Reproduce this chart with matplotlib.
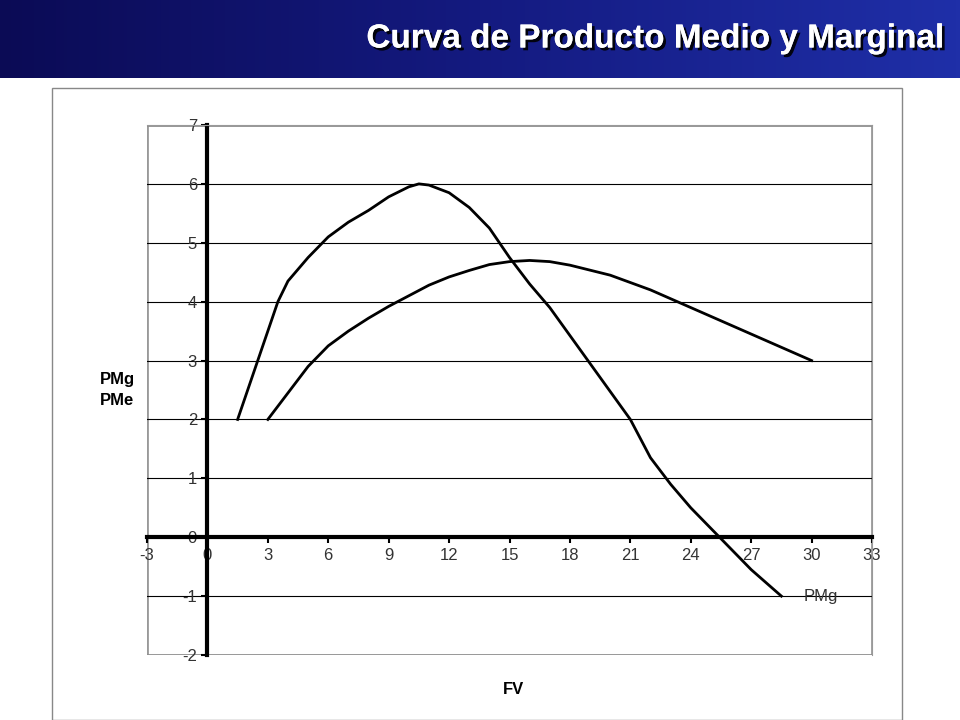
import matplotlib
matplotlib.use("Agg")
import matplotlib.pyplot as plt
import numpy as np
from matplotlib.patches import Rectangle
import matplotlib.patheffects as pe

plt.rcParams['font.family'] = ['Liberation Sans', 'DejaVu Sans']

pmg_x = [1.5, 2.5, 3.5, 4.0, 5.0, 6.0, 7.0, 8.0, 9.0, 10.0, 10.5, 11.0, 12.0, 13.0, 14.0, 15.0, 16.0, 17.0, 19.0, 21.0, 22.0, 23.0, 24.0, 25.0, 26.0, 27.0, 28.5]
pmg_y = [2.0, 3.0, 4.0, 4.35, 4.75, 5.1, 5.35, 5.55, 5.78, 5.95, 6.0, 5.98, 5.85, 5.6, 5.25, 4.75, 4.3, 3.9, 2.95, 2.0, 1.35, 0.9, 0.5, 0.15, -0.2, -0.55, -1.0]
pme_x = [3.0, 4.0, 5.0, 6.0, 7.0, 8.0, 9.0, 10.0, 11.0, 12.0, 13.0, 14.0, 15.0, 16.0, 17.0, 18.0, 20.0, 22.0, 24.0, 26.0, 28.0, 30.0]
pme_y = [2.0, 2.45, 2.9, 3.25, 3.5, 3.72, 3.92, 4.1, 4.28, 4.42, 4.53, 4.63, 4.68, 4.7, 4.68, 4.62, 4.45, 4.2, 3.9, 3.6, 3.3, 3.0]
xticks = list(range(-3, 34, 3))
yticks = list(range(-2, 8))

fig = plt.figure(figsize=(9.6, 7.2), dpi=100)
fig.patch.set_facecolor('white')

# banner
bax = fig.add_axes([0, 1 - 78/720, 1, 78/720])
grad = np.linspace(0, 1, 256).reshape(1, -1)
from matplotlib.colors import LinearSegmentedColormap
cmap = LinearSegmentedColormap.from_list('b', ['#0b0b55', '#141a80', '#1f2fa8'])
bax.imshow(grad, aspect='auto', cmap=cmap, extent=[0, 1, 0, 1])
bax.set_axis_off()
bax.text(0.985, 0.5, 'Curva de Producto Medio y Marginal', color='white', fontsize=24,
         fontweight='bold', ha='right', va='center', transform=bax.transAxes,
         path_effects=[pe.withSimplePatchShadow(offset=(2, -2), shadow_rgbFace='black', alpha=0.9), pe.Normal()])

# chart border
fig.patches.append(Rectangle((52/960, 0), 850/960, (720-88)/720, transform=fig.transFigure,
                             fill=False, edgecolor='#888888', lw=1))

ax = fig.add_axes([147/960, 65/720, 725/960, 530/720])
ax.set_xlim(-3, 33)
ax.set_ylim(-2, 7)
for y in yticks:
    ax.axhline(y, color='black', lw=0.8, zorder=1)
ax.plot(pmg_x, pmg_y, color='black', lw=2, zorder=3)
ax.plot(pme_x, pme_y, color='black', lw=2, zorder=3)

ax.spines['left'].set_position(('data', 0))
ax.spines['bottom'].set_position(('data', 0))
ax.spines['left'].set_linewidth(3)
ax.spines['bottom'].set_linewidth(3)
ax.spines['top'].set_color('#999999')
ax.spines['right'].set_color('#999999')
ax.add_patch(Rectangle((0, 0), 1, 1, transform=ax.transAxes, fill=False, edgecolor='#999999', lw=2, zorder=0))
ax.set_xticks(xticks)
ax.set_yticks(yticks)
ax.tick_params(axis='both', labelsize=12, colors='black', labelcolor='#333333', length=4, width=1.5)
ax.set_xticklabels([str(t) for t in xticks])
ax.set_yticklabels([str(t) for t in yticks])

ax.text(29.6, -1.0, 'PMg', fontsize=12, color='#333333', ha='left', va='center')
fig.text(100/960, 1 - 390/720, 'PMg\nPMe', fontsize=12, fontweight='bold', ha='left', va='center', linespacing=1.5)
fig.text(513/960, 1 - 690/720, 'FV', fontsize=12, fontweight='bold', ha='center', va='center')

fig.savefig('out.png', dpi=100)
